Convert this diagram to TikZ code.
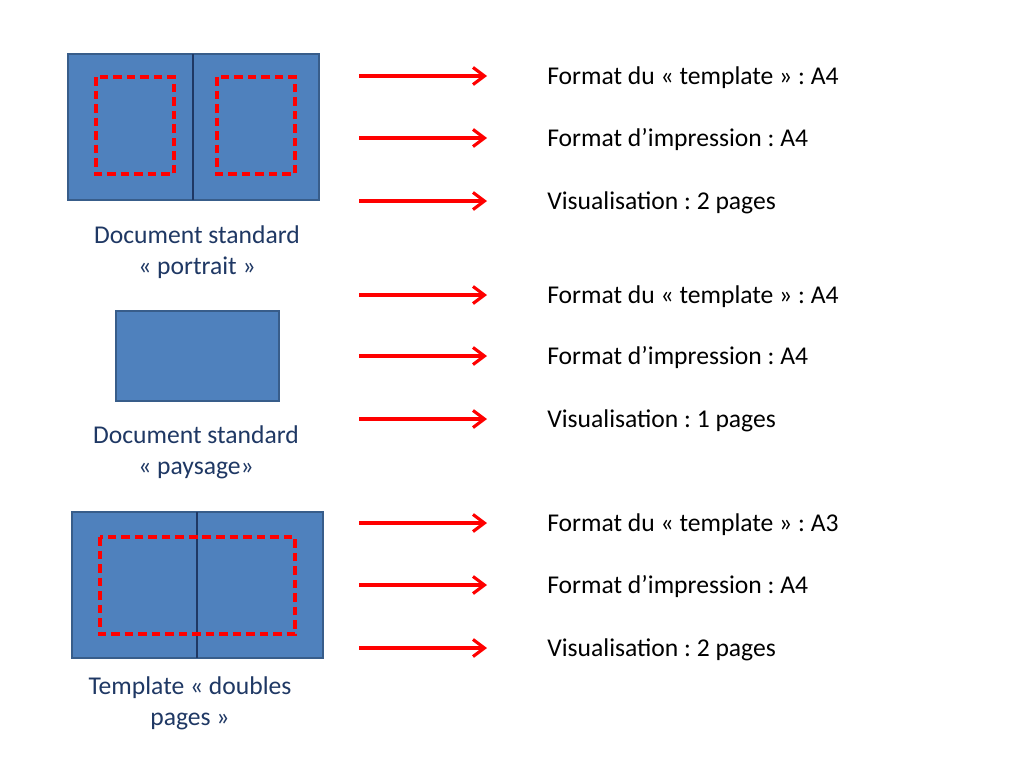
\documentclass[tikz,border=0pt]{standalone}
\usepackage{fontspec}
\setmainfont{Carlito}
\usetikzlibrary{arrows.meta}
\definecolor{boxblue}{HTML}{4F81BD}
\definecolor{boxedge}{HTML}{385D8A}
\definecolor{labelblue}{HTML}{1F3864}
\frenchspacing
\begin{document}
\begin{tikzpicture}[x=0.703pt, y=-0.703pt,
  page/.style={draw=boxedge, fill=boxblue, line width=1.6pt},
  cutline/.style={draw=red, line width=2.2pt, dash pattern=on 6pt off 3.5pt},
  fold/.style={draw=labelblue, line width=0.9pt},
  info/.style={anchor=base west, inner sep=0pt, font=\fontsize{18}{21.6}\selectfont},
  caption/.style={align=center, text=labelblue, font=\fontsize{18}{21.6}\selectfont},
  ptr/.style={-{Straight Barb[length=8pt, width=12pt]}, draw=red, line width=2.2pt}]
  \fill[white] (0,0) rectangle (1024,768);
  \useasboundingbox (0,0) rectangle (1024,768);
  % portrait
  \draw[page] (68,54) rectangle (319,200);
  \draw[fold] (193,54) -- (193,200);
  \draw[cutline] (96,77) rectangle (174,174);
  \draw[cutline] (217,77) rectangle (295,174);
  \node[caption] (portrait) at (197,252) {Document standard\\« portrait »};
  % paysage
  \draw[page] (116,311) rectangle (279,401);
  \node[caption] (paysage) at (196,452) {Document standard\\« paysage»};
  % doubles pages
  \draw[page] (72,512) rectangle (323,658);
  \draw[fold] (197,512) -- (197,658);
  \draw[cutline] (100,537) rectangle (295,634);
  \node[caption] (doubles) at (190,703) {Template « doubles\\pages »};
  % arrows and texts
  \foreach \y/\txt [count=\i] in {76/Format du « template » : A4,
      138/Format d’impression : A4, 201/Visualisation : 2 pages,
      295/Format du « template » : A4, 356/Format d’impression : A4,
      419/Visualisation : 1 pages, 523/Format du « template » : A3,
      585/Format d’impression : A4, 648/Visualisation : 2 pages}{
    \coordinate (s\i) at (359,\y);
    \coordinate (e\i) at (487,\y);
    \draw[ptr] (s\i) -- (e\i);
    \node[info] (t\i) at (547,\y+8) {\txt};
  }
\end{tikzpicture}
\end{document}
